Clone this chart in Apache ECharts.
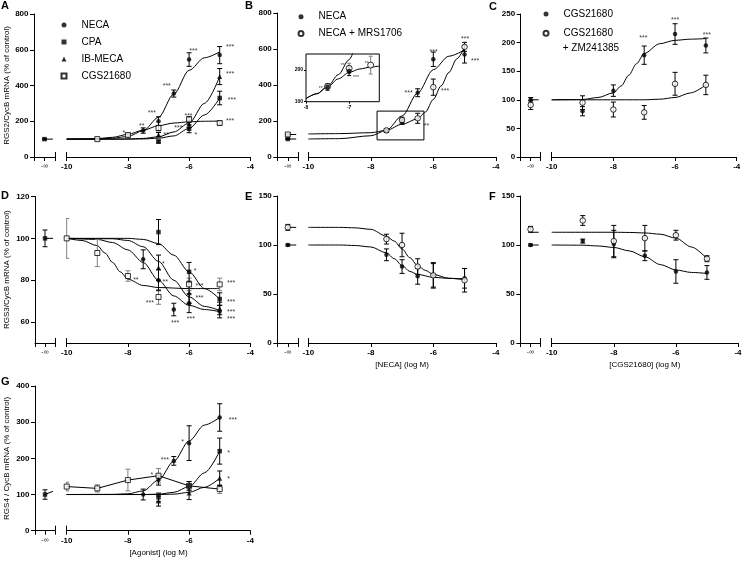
<!DOCTYPE html>
<html><head><meta charset="utf-8">
<script src="https://cdn.jsdelivr.net/npm/echarts@6/dist/echarts.min.js"></script>
<style>html,body{margin:0;padding:0;background:#fff}#c{width:745px;height:561px}</style>
</head><body><div id="c"></div>
<script>
// ================= DATA =================
// Panel A  RGS2
const xA_neca = [-7.5,-7,-6.5,-6,-5];
const A_neca = [148,200,355,545,570];
const A_neca_sem = [15,25,20,38,48];
const xA_3 = [-7,-6,-5];
const A_cpa = [86,158,330];
const A_cpa_sem = [8,22,38];
const A_ib = [125,185,450];
const A_ib_sem = [12,20,45];
const xA_cgs = [-9,-8,-7,-6,-5];
const A_cgs = [100,123,162,210,190];
const A_cgs_sem = [5,8,15,15,10];
const A_ctrl = [100,4];
const A_fit_neca = [[-10,100],[-9,101],[-8.5,105],[-8,115],[-7.5,147],[-7,222],[-6.5,352],[-6,485],[-5.5,555],[-5,588]];
const A_fit_cpa = [[-10,100],[-8,100],[-7.5,101],[-7,105],[-6.5,118],[-6,160],[-5.5,235],[-5,330]];
const A_fit_ib = [[-10,100],[-8.5,100],[-8,101],[-7.5,104],[-7,113],[-6.5,140],[-6,190],[-5.5,300],[-5,450]];
const A_fit_cgs = [[-10,100],[-9.5,101],[-9,103],[-8.5,110],[-8,127],[-7.5,150],[-7,175],[-6.5,190],[-6,197],[-5.5,200],[-5,201]];
const A_stars = [[-8.13,141,'*'],[-7.55,179,'**'],[-7.22,253,'***'],[-6.73,403,'***'],[-5.86,602,'***'],[-4.66,621,'***'],[-4.66,472,'***'],[-4.6,328,'***'],[-4.66,207,'***'],[-6.02,239,'***'],[-6.35,170,'***'],[-6.75,129,'**'],[-5.78,129,'*']];

// Panel B  RGS2, NECA +/- MRS1706
const xB = [-7.5,-7,-6.5,-6,-5];
const B_neca = [146,196,357,543,570];
const B_neca_sem = [10,14,22,40,48];
const B_mrs = [148,205,215,388,612];
const B_mrs_sem = [8,16,28,45,25];
const B_ctrl_neca = [100,2];
const B_ctrl_mrs = [125,3];
const B_fit_neca = [[-10,100],[-9,102],[-8,118],[-7.5,148],[-7,228],[-6.5,355],[-6,485],[-5.5,560],[-5,595]];
const B_fit_mrs = [[-10,128],[-9,130],[-8,135],[-7.5,148],[-7,182],[-6.5,212],[-6.25,250],[-6,320],[-5.75,395],[-5.5,470],[-5.25,545],[-5,610]];
const B_stars = [[-5.99,594,'***'],[-6.79,363,'***'],[-5.62,372,'***'],[-6.22,178,'**'],[-4.98,665,'***'],[-4.66,539,'***']];
const B_box_x = [-7.8,-6.3];
const B_box_y = [95,255];
const B_in_x = [-8,-6.3];
const B_in_y = [100,250];
const B_in_fit_neca = [[-8,110],[-7.75,125],[-7.5,148],[-7.25,185],[-7,232],[-6.9,258]];
const B_in_fit_mrs = [[-8,110],[-7.75,125],[-7.5,146],[-7.25,172],[-7,192],[-6.75,203],[-6.5,209],[-6.3,212]];
const B_in_stars = [[-7.66,147,'**'],[-7.15,218,'**'],[-6.84,179,'***'],[-6.59,226,'**']];

// Panel C  RGS2, CGS21680 +/- ZM241385
const xC = [-9,-8,-7,-6,-5];
const C_cgs = [80,116,178,215,195];
const C_cgs_sem = [8,10,16,18,13];
const C_zm = [95,83,78,128,126];
const C_zm_sem = [12,13,12,20,17];
const C_ctrl_cgs = [100,4];
const C_ctrl_zm = [91,8];
const C_fit_cgs = [[-10,100],[-9,100.5],[-8.5,104],[-8,112],[-7.75,124],[-7.5,143],[-7.25,163],[-7,181],[-6.5,198],[-6,204],[-5.5,206],[-5,207]];
const C_fit_zm = [[-10,100],[-7,100],[-6.5,101],[-6,104],[-5.5,112],[-5,126]];
const C_stars = [[-7.03,211,'***'],[-6.0,242,'***'],[-4.97,216,'***']];

// Panel D  RGS3
const xD_cgs = [-10,-9,-8,-7,-6,-5];
const D_cgs = [100,93,82,72,78,78];
const D_cgs_sem = [9.5,6.5,2.5,3.5,3,3];
const xD_neca = [-7.5,-7,-6.5,-6,-5];
const D_neca = [90,80,66,69,65];
const D_neca_sem = [4.5,5,3,4.5,3];
const xD_3 = [-7,-6,-5];
const D_cpa = [103,84,71];
const D_cpa_sem = [6,4.5,3];
const D_ib = [86,74,66.5];
const D_ib_sem = [6,5,3];
const D_ctrl = [100,4];
const D_yticks = [60,80,100,120];
const D_fit_cgs = [[-10,100],[-9.5,99],[-9,96.5],[-8.75,93],[-8.5,88.5],[-8.25,84],[-8,80.5],[-7.5,77.5],[-7,76.5],[-6,76],[-5,76]];
const D_fit_neca = [[-10,100],[-9,99.5],[-8.5,98],[-8,94.5],[-7.5,88.5],[-7,80],[-6.5,72.5],[-6,68],[-5.5,66],[-5,65]];
const D_fit_ib = [[-10,100],[-8.5,99.8],[-8,99],[-7.5,96],[-7,89],[-6.5,80],[-6,72],[-5.5,67.5],[-5,65.5]];
const D_fit_cpa = [[-10,100],[-8,100],[-7.5,99.5],[-7,97.5],[-6.5,92],[-6,84],[-5.5,76],[-5,71]];
const D_stars = [[-7.74,81,'**'],[-6.84,88.5,'*'],[-6.78,79.7,'**'],[-7.28,69.7,'***'],[-6.46,60.3,'***'],[-5.8,85.3,'*'],[-5.66,78,'***'],[-5.66,72.4,'***'],[-5.94,62.3,'***'],[-4.63,79.3,'***'],[-4.63,70.3,'***'],[-4.63,65.5,'***'],[-4.63,62,'***']];

// Panel E  RGS3, NECA
const xE = [-7.5,-7,-6.5,-6,-5];
const E_neca = [90,78,68,69,66];
const E_neca_sem = [6,7,8,13,10];
const E_open = [106,100,78,69,64];
const E_open_sem = [5,12,8,12,12];
const E_ctrl_neca = [100,1];
const E_ctrl_open = [118,3];
const E_fit_neca = [[-10,100],[-9,100],[-8.5,99.5],[-8,98],[-7.5,92],[-7.25,86],[-7,79],[-6.75,73],[-6.5,70],[-6,67],[-5.5,66],[-5,65.5]];
const E_fit_open = [[-10,118],[-9,118],[-8.5,117.5],[-8,116],[-7.5,109],[-7.25,104],[-7,96],[-6.75,87],[-6.5,79],[-6.25,74],[-6,70],[-5.5,66],[-5,64.5]];

// Panel F  RGS3, CGS21680
const xF = [-9,-8,-7,-6,-5];
const F_cgs = [104,101,89,73,72];
const F_cgs_sem = [2,14,5,12,7];
const F_open = [125,104,107,110,86];
const F_open_sem = [5,16,13,5,3];
const F_ctrl_cgs = [100,1];
const F_ctrl_open = [116,3];
const F_fit_cgs = [[-10,100],[-9,99.8],[-8.5,99],[-8,97.5],[-7.5,94],[-7,88],[-6.5,80],[-6,74.5],[-5.5,72],[-5,71]];
const F_fit_open = [[-10,113],[-8,113],[-7.5,112.8],[-7,112.3],[-6.5,111],[-6,107],[-5.5,98],[-5,86]];

// Panel G  RGS4
const xG_cgs = [-10,-9,-8,-7,-6,-5];
const G_cgs = [122,117,140,152,124,115];
const G_cgs_sem = [12,10,30,20,12,12];
const xG_neca = [-7.5,-7,-6.5,-6,-5];
const G_neca = [100,140,193,242,313];
const G_neca_sem = [15,14,12,48,38];
const xG_3 = [-7,-6,-5];
const G_cpa = [92,124,220];
const G_cpa_sem = [12,12,36];
const G_ib = [82,104,145];
const G_ib_sem = [14,18,20];
const G_ctrl = [100,13];
const G_cgs_brk_end = 109;
const G_fit_neca = [[-10,100],[-8.5,100.5],[-8,102],[-7.5,110],[-7,140],[-6.5,192],[-6,248],[-5.5,292],[-5,313]];
const G_fit_cpa = [[-10,100],[-7.5,100],[-7,101],[-6.5,106],[-6,122],[-5.5,160],[-5,220]];
const G_fit_ib = [[-10,100],[-7,100],[-6.5,101],[-6,106],[-5.5,120],[-5,145]];
const G_stars = [[-7.22,157,'*'],[-6.79,200,'***'],[-6.21,248,'*'],[-4.57,311,'***'],[-4.71,218,'*'],[-4.71,146,'*']];

// ================= STYLE / LAYOUT =================
const FF = '"Liberation Sans", Arial, Helvetica, sans-serif';
const BLK = '#000';
const GREY = '#808080';
const lineStyle = {color: BLK, width: 1};
const BRK_END = 1.8;
const SYM = {
  circle: {symbol:'circle', symbolSize:4.5, itemStyle:{color:BLK}},
  square: {symbol:'rect', symbolSize:4.5, itemStyle:{color:BLK}},
  tri: {symbol:'triangle', symbolSize:5, itemStyle:{color:BLK}},
  osq: {symbol:'rect', symbolSize:5, itemStyle:{color:'#fff', borderColor:BLK, borderWidth:1}},
  ocirc: {symbol:'circle', symbolSize:5.5, itemStyle:{color:'#fff', borderColor:BLK, borderWidth:1}}
};

const grid=[], xAxis=[], yAxis=[], series=[];

function errSeries(data, xi, yi, color, hw){
  hw = hw || 2.5;
  return {type:'custom', xAxisIndex:xi, yAxisIndex:yi, data, silent:true, z:3, clip:true, encode:{x:0,y:1},
    renderItem:(params, api)=>{
      const x=api.value(0), y=api.value(1), e=api.value(2);
      const t=api.coord([x,y+e]), b=api.coord([x,y-e]);
      const st={stroke:color, lineWidth:1};
      return {type:'group', children:[
        {type:'line', shape:{x1:t[0],y1:t[1],x2:b[0],y2:b[1]}, style:st},
        {type:'line', shape:{x1:t[0]-hw,y1:t[1],x2:t[0]+hw,y2:t[1]}, style:st},
        {type:'line', shape:{x1:b[0]-hw,y1:b[1],x2:b[0]+hw,y2:b[1]}, style:st}]};
    }};
}
function ptSeries(name, data, xi, yi, sym, scale){
  const s = Object.assign({type:'scatter', data, xAxisIndex:xi, yAxisIndex:yi, silent:true, z:4}, SYM[sym]);
  if (name) s.name = name;
  if (scale) s.symbolSize = s.symbolSize*scale;
  return s;
}
function fitSeries(data, xi, yi, smooth){
  return {type:'line', data, xAxisIndex:xi, yAxisIndex:yi, symbol:'none', showSymbol:false,
    smooth: smooth===false ? false : 0.3, smoothMonotone:'x', lineStyle:{color:BLK, width:1}, silent:true, z:2};
}
function starSeries(data, xi, yi, size){
  return {type:'scatter', data, xAxisIndex:xi, yAxisIndex:yi, symbolSize:0, silent:true, z:5,
    label:{show:true, position:'inside', formatter:p=>p.data[2], fontSize:size, fontFamily:FF, color:BLK, offset:[0,1.5]}};
}
function pts(xs, ys, es){ return xs.map((x,i)=>[x, ys[i], es[i]]); }

function addPanel(P){
  const gm=grid.length; grid.push({left:P.x0, top:P.top, width:P.x1-P.x0, height:P.bot-P.top});
  const gb=grid.length; grid.push({left:P.bx0, top:P.top, width:P.bx1-P.bx0, height:P.bot-P.top});
  const xm=xAxis.length;
  xAxis.push({gridIndex:gm, type:'value', position:'bottom', min:-10, max:-4, interval:2,
    axisLine:{show:true,onZero:false,lineStyle}, axisTick:{show:true,length:4,lineStyle},
    axisLabel:{fontSize:8,fontWeight:'bold',fontFamily:FF,color:BLK,margin:6,showMinLabel:true,showMaxLabel:true},
    splitLine:{show:false}, name:P.xname||'', nameLocation:'middle', nameGap:18,
    nameTextStyle:{fontSize:8,fontFamily:FF,color:BLK}});
  xAxis.push({gridIndex:gm, type:'value', position:'bottom', min:-10, max:-4, axisLine:{show:false},
    axisTick:{show:true,inside:true,length:5,lineStyle,customValues:[-10]}, axisLabel:{show:false}, splitLine:{show:false}});
  const xb=xAxis.length;
  xAxis.push({gridIndex:gb, type:'value', position:'bottom', min:0, max:2, interval:1,
    axisLine:{show:true,onZero:false,lineStyle}, axisTick:{show:true,length:4,lineStyle},
    axisLabel:{fontSize:7,fontFamily:FF,color:'#222',margin:6,formatter:v=>v===1?'-∞':'',showMinLabel:true,showMaxLabel:true},
    splitLine:{show:false}});
  xAxis.push({gridIndex:gb, type:'value', position:'bottom', min:0, max:2, axisLine:{show:false},
    axisTick:{show:true,inside:true,length:5,lineStyle,customValues:[2]}, axisLabel:{show:false}, splitLine:{show:false}});
  const ym=yAxis.length, yb=ym+1;
  const yMain = {gridIndex:gm, type:'value', min:P.ymin, max:P.ymax, show:false};
  const yBrk = {gridIndex:gb, type:'value', position:'left', min:P.ymin, max:P.ymax,
    axisLine:{show:true,onZero:false,lineStyle}, axisTick:{show:true,length:4,lineStyle},
    axisLabel:{fontSize:8,fontWeight:'bold',fontFamily:FF,color:BLK,margin:5.5,showMinLabel:true,showMaxLabel:true},
    splitLine:{show:false}, name:P.yname||'', nameLocation:'middle', nameGap:P.yGap||22, nameRotate:90,
    nameTextStyle:{fontSize:8,fontFamily:FF,color:BLK}};
  if (P.yint){ yMain.interval=P.yint; yBrk.interval=P.yint; }
  if (P.yticks){ yBrk.axisTick.customValues=P.yticks; yBrk.axisLabel.customValues=P.yticks; }
  yAxis.push(yMain, yBrk);

  P.sets.forEach(s=>{
    const d = pts(s.x, s.y, s.e);
    if (s.fit) series.push(fitSeries(s.fit, xm, ym));
    if (s.connect) series.push(fitSeries(d.map(p=>[p[0],p[1]]), xm, ym, false));
    series.push(errSeries(d, xm, ym, s.errColor||BLK));
    series.push(ptSeries(s.name, d, xm, ym, s.sym));
  });
  (P.brk||[]).forEach(b=> series.push(fitSeries([[1,b[0]],[BRK_END,b[1]]], xb, yb, false)));
  P.ctrls.forEach(c=>{
    const d=[[1,c.v[0],c.v[1]]];
    series.push(errSeries(d, xb, yb, BLK));
    series.push(ptSeries(null, d, xb, yb, c.sym));
  });
  if (P.stars) series.push(starSeries(P.stars, xm, ym, 7));
  return {xm, ym, xb, yb};
}

addPanel({x0:66.7, x1:250.3, bx0:34, bx1:55, top:14, bot:157, ymin:0, ymax:800, yint:200,
  yname:'RGS2/CycB mRNA (% of control)', yGap:22.5,
  sets:[
    {name:'NECA|A', sym:'circle', x:xA_neca, y:A_neca, e:A_neca_sem, fit:A_fit_neca},
    {name:'CPA|A', sym:'square', x:xA_3, y:A_cpa, e:A_cpa_sem, fit:A_fit_cpa},
    {name:'IB-MECA|A', sym:'tri', x:xA_3, y:A_ib, e:A_ib_sem, fit:A_fit_ib},
    {name:'CGS21680|A', sym:'osq', x:xA_cgs, y:A_cgs, e:A_cgs_sem, fit:A_fit_cgs}],
  ctrls:[{v:A_ctrl, sym:'square'}], brk:[[A_ctrl[0],A_ctrl[0]]], stars:A_stars});

const PB = addPanel({x0:308.3, x1:495.8, bx0:277.3, bx1:298.3, top:13, bot:157, ymin:0, ymax:800, yint:200,
  sets:[
    {name:'NECA|B', sym:'circle', x:xB, y:B_neca, e:B_neca_sem, fit:B_fit_neca},
    {name:'NECA + MRS1706|B', sym:'ocirc', x:xB, y:B_mrs, e:B_mrs_sem, fit:B_fit_mrs}],
  ctrls:[{v:B_ctrl_mrs, sym:'osq'},{v:B_ctrl_neca, sym:'square'}],
  brk:[[B_ctrl_mrs[0],B_ctrl_mrs[0]],[B_ctrl_neca[0],B_ctrl_neca[0]]], stars:B_stars});
// zoom rectangle on B
series.push({type:'line', data:[], xAxisIndex:PB.xm, yAxisIndex:PB.ym, silent:true,
  markArea:{silent:true, label:{show:false}, itemStyle:{color:'rgba(0,0,0,0)', borderColor:BLK, borderWidth:1},
    data:[[{coord:[B_box_x[0],B_box_y[0]]},{coord:[B_box_x[1],B_box_y[1]]}]]}});

addPanel({x0:551.7, x1:736.7, bx0:520.7, bx1:540.7, top:14, bot:157, ymin:0, ymax:250, yint:50,
  sets:[
    {name:'CGS21680|C', sym:'circle', x:xC, y:C_cgs, e:C_cgs_sem, fit:C_fit_cgs},
    {name:'CGS21680|Cz', sym:'ocirc', x:xC, y:C_zm, e:C_zm_sem, fit:C_fit_zm}],
  ctrls:[{v:C_ctrl_zm, sym:'ocirc'},{v:C_ctrl_cgs, sym:'circle'}], brk:[[C_ctrl_cgs[0],C_ctrl_cgs[0]]], stars:C_stars});

addPanel({x0:66.7, x1:250.3, bx0:35, bx1:55, top:196.5, bot:343, ymin:50, ymax:120, yticks:D_yticks,
  yname:'RGS3/CycB mRNA (% of control)', yGap:24,
  sets:[
    {name:'CGS21680|D', sym:'osq', x:xD_cgs, y:D_cgs, e:D_cgs_sem, fit:D_fit_cgs, errColor:GREY},
    {name:'CPA|D', sym:'square', x:xD_3, y:D_cpa, e:D_cpa_sem, fit:D_fit_cpa},
    {name:'IB-MECA|D', sym:'tri', x:xD_3, y:D_ib, e:D_ib_sem, fit:D_fit_ib},
    {name:'NECA|D', sym:'circle', x:xD_neca, y:D_neca, e:D_neca_sem, fit:D_fit_neca}],
  ctrls:[{v:D_ctrl, sym:'square'}], brk:[[D_ctrl[0],D_ctrl[0]]], stars:D_stars});

addPanel({x0:308.3, x1:495.8, bx0:277.3, bx1:298.3, top:196, bot:343, ymin:0, ymax:150, yint:50,
  xname:'[NECA] (log M)',
  sets:[
    {name:'NECA|E', sym:'circle', x:xE, y:E_neca, e:E_neca_sem, fit:E_fit_neca},
    {name:'NECA2|E', sym:'ocirc', x:xE, y:E_open, e:E_open_sem, fit:E_fit_open}],
  ctrls:[{v:E_ctrl_open, sym:'ocirc'},{v:E_ctrl_neca, sym:'circle'}],
  brk:[[E_ctrl_open[0],E_ctrl_open[0]],[E_ctrl_neca[0],E_ctrl_neca[0]]]});

addPanel({x0:551.7, x1:738, bx0:520.3, bx1:540.7, top:196, bot:343, ymin:0, ymax:150, yint:50,
  xname:'[CGS21680] (log M)',
  sets:[
    {name:'CGS|F', sym:'circle', x:xF, y:F_cgs, e:F_cgs_sem, fit:F_fit_cgs},
    {name:'CGS2|F', sym:'ocirc', x:xF, y:F_open, e:F_open_sem, fit:F_fit_open}],
  ctrls:[{v:F_ctrl_open, sym:'ocirc'},{v:F_ctrl_cgs, sym:'circle'}],
  brk:[[F_fit_open[0][1],F_fit_open[0][1]],[F_ctrl_cgs[0],F_ctrl_cgs[0]]]});

addPanel({x0:66.7, x1:250.3, bx0:35, bx1:55, top:386, bot:530.7, ymin:0, ymax:400, yint:100,
  xname:'[Agonist] (log M)', yname:'RGS4 / CycB mRNA (% of control)', yGap:24,
  sets:[
    {name:'CGS21680|G', sym:'osq', x:xG_cgs, y:G_cgs, e:G_cgs_sem, connect:true, errColor:GREY},
    {name:'NECA|G', sym:'circle', x:xG_neca, y:G_neca, e:G_neca_sem, fit:G_fit_neca},
    {name:'CPA|G', sym:'square', x:xG_3, y:G_cpa, e:G_cpa_sem, fit:G_fit_cpa},
    {name:'IB-MECA|G', sym:'tri', x:xG_3, y:G_ib, e:G_ib_sem, fit:G_fit_ib}],
  ctrls:[{v:G_ctrl, sym:'square'}], brk:[[G_ctrl[0],G_cgs_brk_end]], stars:G_stars});

// ---- inset of panel B ----
(function(){
  const gi=grid.length;
  grid.push({left:306, top:54, width:73.3, height:47.7, show:true, borderColor:BLK, borderWidth:1, backgroundColor:'#fff'});
  const xi=xAxis.length;
  xAxis.push({gridIndex:gi, type:'value', position:'bottom', min:B_in_x[0], max:B_in_x[1], axisLine:{show:false},
    axisTick:{show:true,length:2,lineStyle,customValues:[-8,-7]},
    axisLabel:{fontSize:5,fontWeight:'bold',fontFamily:FF,color:BLK,margin:3,customValues:[-8,-7]}, splitLine:{show:false}});
  const yi=yAxis.length;
  yAxis.push({gridIndex:gi, type:'value', min:B_in_y[0], max:B_in_y[1], axisLine:{show:false},
    axisTick:{show:true,length:2,lineStyle,customValues:[100,200]},
    axisLabel:{fontSize:5,fontWeight:'bold',fontFamily:FF,color:BLK,margin:3,customValues:[100,200]}, splitLine:{show:false}});
  series.push(fitSeries(B_in_fit_neca, xi, yi));
  series.push(fitSeries(B_in_fit_mrs, xi, yi));
  const inR = p => p[0] >= B_in_x[0] && p[0] <= B_in_x[1] && p[1] >= B_in_y[0] && p[1] <= B_in_y[1];
  const dn = pts(xB, B_neca, B_neca_sem).filter(inR);
  const dm = pts(xB, B_mrs, B_mrs_sem).filter(inR);
  series.push(errSeries(dm, xi, yi, GREY, 2));
  series.push(errSeries(dn, xi, yi, BLK, 2));
  series.push(ptSeries(null, dm, xi, yi, 'ocirc', 1.1));
  series.push(ptSeries(null, dn, xi, yi, 'circle', 1.1));
  series.push(starSeries(B_in_stars, xi, yi, 5));
})();

const legendBase = {orient:'vertical', itemWidth:5, itemHeight:5, selectedMode:false, padding:0,
  formatter:n=>n.split('|')[0], textStyle:{fontSize:10, fontFamily:FF, color:BLK, padding:[0,0,0,10]}};
const legend = [
  Object.assign({}, legendBase, {data:['NECA|A','CPA|A','IB-MECA|A','CGS21680|A'], left:60.5, top:20, itemGap:7}),
  Object.assign({}, legendBase, {data:['NECA|B','NECA + MRS1706|B'], left:297.5, top:11.7, itemGap:6.7}),
  Object.assign({}, legendBase, {data:['CGS21680|C','CGS21680|Cz'], left:542.5, top:9, itemGap:9.3})
];
const letterStyle = {fontSize:11, fontWeight:'bold', fontFamily:FF, color:BLK};
const title = [
  {text:'A', left:1, top:0.5}, {text:'B', left:245, top:0.5}, {text:'C', left:489, top:1},
  {text:'D', left:1, top:190}, {text:'E', left:245, top:191}, {text:'F', left:489, top:191},
  {text:'G', left:1, top:376}
].map(t=>Object.assign(t,{padding:0, textStyle:letterStyle}));
title.push({text:'+ ZM241385', left:562.7, top:43, padding:0, textStyle:{fontSize:10, fontWeight:'normal', fontFamily:FF, color:BLK}});

const chart = echarts.init(document.getElementById('c'), null, {renderer:'canvas'});
chart.setOption({backgroundColor:'#fff', animation:false, title, legend, grid, xAxis, yAxis, series});
</script></body></html>
